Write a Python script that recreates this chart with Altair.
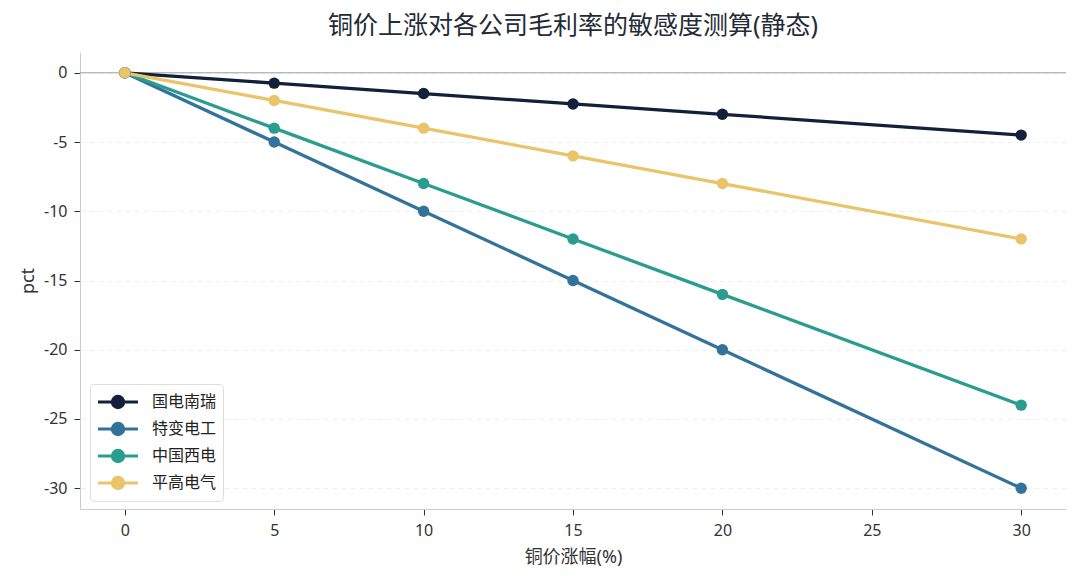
import altair as alt
import pandas as pd

copper_rise = [0, 5, 10, 15, 20, 30]
companies = ["国电南瑞", "特变电工", "中国西电", "平高电气"]
guodian = [0, -0.75, -1.5, -2.25, -3.0, -4.5]
tebian = [0, -5, -10, -15, -20, -30]
xidian = [0, -4, -8, -12, -16, -24]
pinggao = [0, -2, -4, -6, -8, -12]
colors = ["#12203a", "#33729a", "#2a9d8f", "#e9c46a"]

series = [guodian, tebian, xidian, pinggao]
rows = []
for name, vals in zip(companies, series):
    for xv, yv in zip(copper_rise, vals):
        rows.append({"x": xv, "y": yv, "company": name})
df = pd.DataFrame(rows)

FONT = "Noto Sans, Noto Sans CJK SC"

xscale = alt.Scale(domain=[-1.5, 31.5], nice=False, zero=False)
yscale = alt.Scale(domain=[-31.5, 1.5], nice=False, zero=False)
cscale = alt.Scale(domain=companies, range=colors)

# symbol: horizontal line with filled circle (unit box scaled by sqrt(size)/2)
sym = "M -2 0 L 2 0 M 0.56 0 A 0.56 0.56 0 1 1 -0.56 0 A 0.56 0.56 0 1 1 0.56 0 Z"

legend = alt.Legend(
    title=None, orient="none", legendX=10, legendY=332,
    symbolType=sym, symbolSize=400, symbolStrokeWidth=3.2, symbolOffset=10,
    labelFont=FONT, labelFontSize=16, labelColor="#222222",
    strokeColor="#dddddd", cornerRadius=4, padding=6,
    rowPadding=3, labelOffset=22, fillColor="white",
)

x_axis = alt.Axis(values=[0, 5, 10, 15, 20, 25, 30], grid=False, title="铜价涨幅(%)",
                  labelExpr="'' + datum.value")
y_axis = alt.Axis(values=[-30, -25, -20, -15, -10, -5, 0], title="pct",
                  grid=True, gridDash=[5, 4], gridColor="#eeeeee",
                  labelExpr="'' + datum.value")

base = alt.Chart(df)
lines = base.mark_line(strokeWidth=3.3).encode(
    x=alt.X("x:Q", scale=xscale, axis=x_axis),
    y=alt.Y("y:Q", scale=yscale, axis=y_axis),
    color=alt.Color("company:N", scale=cscale, sort=companies, legend=legend),
)
points = base.mark_point(filled=True, size=130, opacity=1).encode(
    x="x:Q", y="y:Q",
    color=alt.Color("company:N", scale=cscale, sort=companies, legend=legend),
)
zero = alt.Chart(pd.DataFrame({"z": [0]})).mark_rule(color="#a0a0a0", strokeWidth=1).encode(
    y=alt.Y("z:Q", scale=yscale)
)

chart = alt.layer(zero, lines, points).properties(
    width=986, height=457,
    title=alt.TitleParams("铜价上涨对各公司毛利率的敏感度测算(静态)", font=FONT, fontSize=25,
                          fontWeight="normal", color="#232b36", anchor="middle", offset=13),
    autosize=alt.AutoSizeParams(type="none"),
    padding={"left": 72, "top": 44, "right": 6, "bottom": 67},
).configure_view(stroke=None).configure_axis(
    labelFont=FONT, labelFontSize=16, labelColor="#333333",
    titleFont=FONT, titleFontSize=18, titleFontWeight="normal", titleColor="#333333",
    domainColor="#cccccc", tickColor="#333333", tickSize=6, labelPadding=7,
).configure_axisY(titlePadding=6).configure_axisX(titlePadding=10)

chart.save("out.html", embed_options={"renderer": "svg", "actions": False})
